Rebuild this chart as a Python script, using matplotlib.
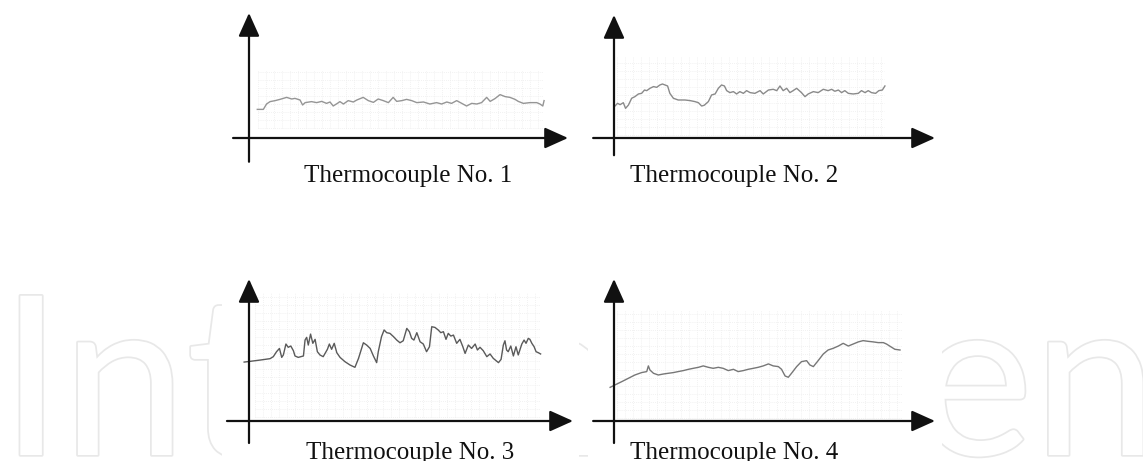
import numpy as np
import matplotlib.pyplot as plt
from matplotlib.patches import Rectangle
import matplotlib.patheffects as pe

W, H = 1143, 461

# traces (time and reading both in % of the axis length)
t1 = [2.6, 4.5, 5.5, 6.6, 8.2, 9.7, 11.8, 13.4, 14.4, 16.0, 16.8, 17.6, 19.6, 21.2, 22.8,
      24.3, 25.4, 26.4, 27.7, 28.5, 29.6, 31.1, 32.7, 33.8, 35.8, 37.4, 39.0, 40.5, 42.1,
      43.7, 45.2, 46.3, 47.9, 49.4, 51.0, 52.6, 54.7, 56.7, 58.8, 60.4, 62.0, 63.5, 65.1,
      66.7, 68.2, 69.8, 71.4, 72.9, 74.5, 75.6, 77.1, 78.7, 80.3, 81.8, 83.4, 84.4, 86.0,
      88.1, 90.2, 91.2, 92.1, 92.5]
y1 = [22.9, 22.9, 27.2, 29.1, 29.9, 30.9, 32.5, 31.2, 31.7, 30.4, 26.4, 28.3, 29.1, 28.3, 29.3,
      27.7, 28.8, 25.6, 27.7, 29.1, 27.2, 29.9, 28.8, 30.4, 32.5, 29.9, 28.5, 31.2, 29.9,
      28.3, 32.5, 29.3, 29.9, 30.9, 29.9, 28.3, 28.8, 27.2, 28.3, 27.2, 28.8, 27.7, 29.9,
      27.7, 25.6, 27.7, 27.2, 28.3, 32.5, 29.3, 31.5, 34.7, 33.1, 32.5, 30.9, 29.3, 27.7,
      28.3, 28.3, 27.2, 25.6, 29.9]

t2 = [0.3, 1.1, 1.9, 2.9, 3.6, 4.5, 5.5, 6.5, 7.6, 8.6, 9.5, 10.2, 11.2, 12.3, 13.3, 14.3,
      15.1, 15.9, 16.7, 17.4, 18.5, 20.0, 22.1, 23.7, 25.2, 26.3, 27.3, 28.1, 29.4, 30.4,
      31.5, 32.5, 33.5, 34.4, 35.1, 36.1, 37.2, 38.2, 39.2, 40.3, 41.3, 42.4, 43.9, 45.5,
      46.5, 48.1, 49.6, 50.7, 51.7, 52.7, 53.8, 54.8, 55.8, 56.9, 58.4, 59.5, 60.5, 62.1,
      63.6, 65.2, 66.7, 67.8, 68.8, 69.9, 70.9, 71.9, 73.0, 74.5, 76.1, 77.1, 78.2, 79.2,
      80.2, 81.5, 82.5, 83.6, 84.4]
y2 = [26.0, 28.2, 27.1, 28.7, 24.1, 26.8, 32.3, 33.6, 35.8, 36.3, 39.0, 38.5, 40.4, 41.8, 41.2,
      43.1, 43.9, 43.1, 42.3, 36.3, 32.3, 30.9, 30.9, 30.4, 29.6, 28.7, 26.0, 26.6, 29.6,
      35.0, 35.8, 40.4, 43.1, 42.3, 38.5, 36.9, 37.7, 35.8, 37.7, 36.3, 38.5, 36.9, 36.3,
      38.5, 35.8, 39.0, 39.6, 38.5, 42.3, 38.5, 40.4, 36.9, 38.5, 40.4, 36.9, 33.6, 35.8,
      37.7, 36.9, 39.6, 38.5, 39.6, 38.0, 39.0, 36.9, 38.5, 36.3, 35.8, 36.3, 38.5, 36.9,
      38.5, 36.9, 36.3, 38.5, 39.0, 42.3]

t3 = [-1.5, 0.3, 3.4, 6.5, 7.5, 8.5, 9.4, 10.1, 10.6, 11.4, 12.1, 12.9, 13.7, 14.2, 15.2,
      16.8, 17.3, 17.8, 18.3, 19.0, 19.7, 20.4, 21.1, 21.9, 22.9, 24.2, 24.8, 25.5, 26.3,
      27.1, 28.1, 29.6, 31.2, 32.7, 33.8, 35.3, 36.3, 37.4, 38.4, 39.4, 39.9, 40.9, 41.7,
      42.5, 43.5, 44.6, 45.6, 46.6, 47.6, 48.7, 49.5, 50.2, 50.9, 51.8, 52.8, 53.8, 54.8,
      55.7, 56.4, 57.4, 58.4, 59.2, 60.0, 60.8, 61.5, 62.3, 63.1, 64.1, 65.1, 66.0, 66.7,
      67.7, 68.7, 69.8, 70.5, 71.3, 72.3, 73.4, 74.4, 75.4, 77.0, 77.8, 78.5, 79.0, 79.5,
      80.0, 80.8, 81.6, 82.4, 83.1, 84.2, 84.9, 85.5, 86.2, 86.7, 87.3, 88.0, 88.6, 89.3,
      90.0]
y3 = [41.5, 42.0, 42.9, 43.9, 45.3, 48.8, 51.1, 44.8, 46.5, 54.2, 51.9, 52.8, 49.5, 45.8, 44.8,
      45.8, 57.0, 58.9, 53.5, 61.2, 54.7, 57.5, 48.8, 46.5, 45.3, 50.5, 54.2, 50.5, 54.7,
      48.1, 44.8, 41.8, 39.4, 37.8, 44.1, 55.1, 53.5, 51.1, 45.8, 41.1, 48.8, 59.4, 64.1,
      62.2, 61.7, 59.4, 57.0, 55.1, 56.5, 65.2, 62.9, 58.2, 57.0, 62.2, 55.8, 54.2, 48.8,
      52.3, 66.4, 65.9, 64.1, 62.2, 62.9, 57.5, 61.7, 59.8, 60.5, 54.7, 57.5, 52.3, 47.6,
      53.5, 51.1, 54.2, 50.0, 51.9, 49.5, 45.3, 47.2, 44.1, 41.1, 43.4, 53.5, 56.5, 50.0,
      48.8, 52.8, 45.8, 52.3, 46.5, 54.2, 57.0, 54.7, 58.2, 57.5, 54.7, 52.3, 48.8, 48.1,
      47.2]

t4 = [-1.2, 0.3, 2.4, 4.5, 6.5, 8.6, 10.2, 10.7, 11.2, 12.3, 13.8, 15.4, 16.9, 18.5, 20.0,
      21.6, 23.2, 24.7, 26.3, 27.8, 29.4, 30.9, 32.5, 34.0, 35.6, 37.2, 38.7, 40.3, 41.8,
      43.4, 44.9, 46.5, 48.1, 49.6, 51.2, 52.2, 53.3, 54.3, 55.3, 56.9, 58.4, 60.0, 61.0,
      62.1, 63.6, 65.2, 66.7, 68.3, 69.9, 71.4, 73.0, 74.5, 76.1, 77.6, 79.2, 80.8, 82.3,
      83.9, 84.9, 86.5, 87.5, 89.1]
y4 = [23.7, 25.4, 27.7, 30.1, 32.4, 34.1, 34.8, 38.8, 35.9, 33.6, 32.4, 33.1, 33.6, 34.1, 34.8,
      35.5, 36.4, 37.1, 37.8, 38.8, 37.8, 37.1, 37.8, 37.1, 35.5, 36.4, 34.8, 35.5, 36.4,
      37.1, 37.8, 38.8, 40.2, 38.8, 38.3, 36.4, 31.7, 30.8, 33.6, 38.3, 41.8, 42.5, 39.5,
      38.3, 42.5, 47.2, 50.0, 51.2, 52.8, 54.7, 52.8, 54.2, 55.7, 56.6, 56.1, 55.7, 55.2,
      55.2, 54.2, 51.9, 50.5, 50.0]

labels = ["Thermocouple No. 1", "Thermocouple No. 2",
          "Thermocouple No. 3", "Thermocouple No. 4"]


def frac(l, t, r, b):
    # pixel box -> figure fraction [left, bottom, width, height]
    return [l / W, (H - b) / H, (r - l) / W, (b - t) / H]


fig = plt.figure(figsize=(W / 100, H / 100), dpi=100)
fig.patch.set_facecolor('white')

# faint outlined watermark behind everything
fig.text(0 / W, (H - 455) / H, "IntechOpen", fontsize=160, family='Lato',
         color='white', ha='left', va='baseline', zorder=0,
         path_effects=[pe.Stroke(linewidth=2.5, foreground='#e8e8e8'), pe.Normal()])

# white blocks of the pasted chart images
for box in [(222, 0, 580, 200), (588, 0, 948, 200), (222, 262, 579, 461), (588, 262, 942, 461)]:
    l, t, r, b = box
    fig.patches.append(Rectangle((l / W, (H - b) / H), (r - l) / W, (b - t) / H,
                                 transform=fig.transFigure, facecolor='white',
                                 edgecolor='none', zorder=1))

panels = [
    # (axes box in px, x-ext, y-ext, grid box in data units, line colour)
    ((249, 13, 568, 138), 0.05, 0.19, (2.8, 92.2, 8, 54), '#959595'),
    ((614, 15, 935, 138), 0.065, 0.14, (1, 84, 2.4, 66), '#8a8a8a'),
    ((249, 279, 573, 421), 0.068, 0.155, (1.9, 89.8, 2.8, 90.8), '#5a5a5a'),
    ((614, 279, 935, 421), 0.065, 0.155, (1, 89.7, 2.1, 78.2), '#777777'),
]
traces = [(t1, y1), (t2, y2), (t3, y3), (t4, y4)]
label_pos = [(408, 182), (734, 182), (410, 459), (734, 459)]

for (box, xext, yext, grid, col), (t, y), lab, (lx, ly) in zip(panels, traces, labels, label_pos):
    ax = fig.add_axes(frac(*box), zorder=2)
    ax.set_xlim(0, 100)
    ax.set_ylim(0, 100)
    ax.axis('off')

    # faint chart-paper grid
    l, t_, r, b = box
    dx = 8 / (r - l) * 100
    dy = 8 / (b - t_) * 100
    gx0, gx1, gy0, gy1 = grid
    ax.vlines(np.arange(gx0, gx1, dx), gy0, gy1, colors='#ededed', lw=0.6,
              linestyles=(0, (1, 1.5)))
    ax.hlines(np.arange(gy0, gy1, dy), gx0, gx1, colors='#ededed', lw=0.6,
              linestyles=(0, (1, 1.5)))

    ax.plot(t, y, color=col, lw=1.0, clip_on=False)

    arrow = dict(arrowstyle='-|>,head_length=1.0,head_width=0.45', lw=1.6,
                 color='#111111', shrinkA=0, shrinkB=0, mutation_scale=14.4)
    ax.annotate('', xy=(1, 0), xytext=(-xext, 0), xycoords='axes fraction',
                arrowprops=arrow, annotation_clip=False)
    ax.annotate('', xy=(0, 1), xytext=(0, -yext), xycoords='axes fraction',
                arrowprops=arrow, annotation_clip=False)

    fig.text(lx / W, (H - ly) / H, lab, fontsize=18, family='Liberation Serif',
             ha='center', va='baseline', color='#111111', zorder=3)

fig.savefig('out.png', dpi=100, facecolor='white')
